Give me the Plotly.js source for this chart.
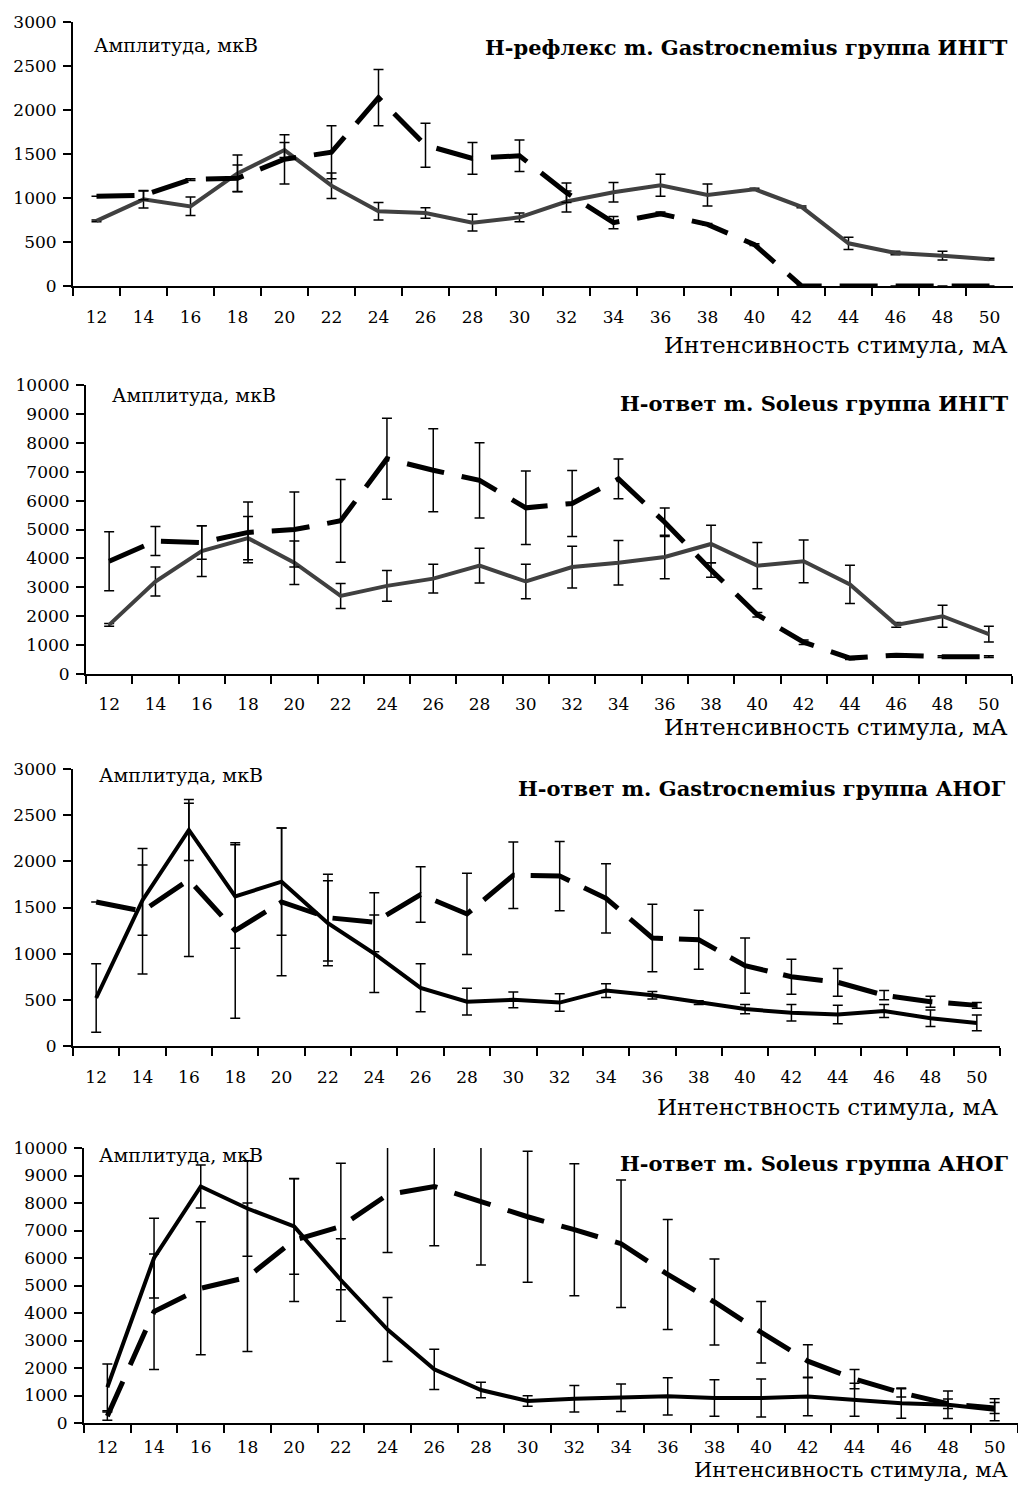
<!DOCTYPE html>
<html>
<head>
<meta charset="utf-8">
<script src="https://cdn.plot.ly/plotly-3.0.1.min.js"></script>
<style>
  html, body { margin: 0; padding: 0; background: #fff; }
  #chart { width: 1018px; height: 1485px; }
</style>
</head>
<body>
<div id="chart"></div>
<script>
// Stimulus intensity, mA
const intensity = ["12","14","16","18","20","22","24","26","28","30","32","34","36","38","40","42","44","46","48","50"];

// H-рефлекс m. Gastrocnemius, группа ИНГТ
const gastrIngtSolid    = [740, 985, 905, 1280, 1545, 1140, 850, 830, 720, 780, 960, 1065, 1145, 1035, 1100, 900, 485, 375, 345, 305];
const gastrIngtSolidErr = [10, 100, 105, 210, 85, 145, 100, 60, 95, 50, 120, 110, 125, 125, 10, 10, 70, 20, 50, 10];
const gastrIngtDash     = [1020, 1030, 1210, 1225, 1440, 1520, 2140, 1600, 1450, 1480, 1060, 720, 820, 700, 470, 0, 0, 0, 0, 0];
const gastrIngtDashErr  = [0, 50, 10, 150, 280, 300, 320, 250, 180, 180, 110, 70, 20, 10, 10, 0, 0, 0, 0, 0];

// H-ответ m. Soleus, группа ИНГТ
const solIngtSolid    = [1700, 3200, 4250, 4700, 3850, 2700, 3050, 3300, 3750, 3200, 3700, 3850, 4050, 4500, 3750, 3900, 3100, 1700, 2000, 1380];
const solIngtSolidErr = [50, 500, 880, 750, 750, 430, 530, 500, 600, 600, 720, 770, 750, 650, 800, 740, 660, 80, 380, 270];
const solIngtDash     = [3900, 4600, 4550, 4900, 5000, 5300, 7450, 7050, 6700, 5750, 5900, 6750, 5250, 3600, 2050, 1100, 550, 650, 600, 600];
const solIngtDashErr  = [1020, 500, 580, 1050, 1300, 1430, 1400, 1440, 1300, 1270, 1140, 690, 490, 250, 80, 80, 50, 30, 30, 30];

// H-ответ m. Gastrocnemius, группа АНОГ
const gastrAnogSolid    = [520, 1580, 2340, 1620, 1780, 1330, 1000, 630, 480, 500, 470, 600, 550, 470, 400, 360, 340, 380, 300, 250];
const gastrAnogSolidErr = [370, 380, 330, 560, 580, 460, 420, 260, 145, 85, 95, 75, 40, 20, 50, 90, 100, 70, 90, 85];
const gastrAnogDash     = [1560, 1460, 1800, 1250, 1560, 1390, 1340, 1640, 1430, 1850, 1840, 1600, 1170, 1150, 870, 750, 690, 550, 480, 440];
const gastrAnogDashErr  = [0, 680, 830, 950, 800, 470, 320, 300, 440, 360, 375, 375, 365, 320, 300, 190, 150, 50, 60, 30];

// H-ответ m. Soleus, группа АНОГ
const solAnogSolid    = [1300, 6000, 8600, 7800, 7150, 5200, 3400, 1950, 1200, 800, 880, 920, 970, 910, 910, 960, 850, 720, 660, 480];
const solAnogSolidErr = [850, 1450, 780, 1740, 1740, 1500, 1160, 730, 280, 190, 480, 500, 680, 660, 690, 700, 600, 550, 500, 400];
const solAnogDash     = [250, 4050, 4900, 5300, 6650, 7150, 8300, 8600, 8050, 7500, 7030, 6520, 5400, 4400, 3300, 2250, 1600, 1100, 700, 550];
const solAnogDashErr  = [150, 2100, 2420, 2700, 2230, 2300, 2100, 2150, 2300, 2380, 2400, 2320, 2000, 1560, 1120, 600, 350, 150, 170, 200];

const W = 1018, H = 1485;
const px = x => x / W;
const py = y => 1 - y / H;
const SERIF = "DejaVu Serif, Liberation Serif, serif";

function series(y, err, axisIdx, color, dash, width) {
  const s = axisIdx === 1 ? "" : String(axisIdx);
  return {
    type: "scatter", mode: "lines",
    x: intensity, y: y,
    xaxis: "x" + s, yaxis: "y" + s,
    line: { color: color, width: width, dash: dash },
    error_y: { type: "data", array: err, visible: true, color: "#000", thickness: 1.5, width: 5 },
    hoverinfo: "skip", showlegend: false
  };
}

const traces = [
  series(gastrIngtSolid, gastrIngtSolidErr, 1, "#404040", "solid", 4),
  series(gastrIngtDash, gastrIngtDashErr, 1, "#000", "38px,18px", 5),
  series(solIngtSolid, solIngtSolidErr, 2, "#404040", "solid", 4),
  series(solIngtDash, solIngtDashErr, 2, "#000", "38px,18px", 5),
  series(gastrAnogSolid, gastrAnogSolidErr, 3, "#000", "solid", 4),
  series(gastrAnogDash, gastrAnogDashErr, 3, "#000", "40px,16px", 5),
  series(solAnogSolid, solAnogSolidErr, 4, "#000", "solid", 4),
  series(solAnogDash, solAnogDashErr, 4, "#000", "38px,18px", 5)
];

// panel geometry in pixels: left, right, top (max value), bottom (zero), tick label gap
const panels = [
  { l: 73, r: 1013, t: 22,   b: 286,  max: 3000,  dt: 500,  gap: 15 },
  { l: 86, r: 1012, t: 385,  b: 674,  max: 10000, dt: 1000, gap: 14 },
  { l: 73, r: 1000, t: 769,  b: 1046, max: 3000,  dt: 500,  gap: 15 },
  { l: 84, r: 1018, t: 1148, b: 1423, max: 10000, dt: 1000, gap: 8 }
];

const tickFont = { family: SERIF, size: 17, color: "#000" };

const layout = {
  width: W, height: H,
  margin: { l: 0, r: 0, t: 0, b: 0 },
  paper_bgcolor: "#fff", plot_bgcolor: "#fff",
  showlegend: false,
  annotations: []
};

panels.forEach((p, i) => {
  const s = i === 0 ? "" : String(i + 1);
  layout["xaxis" + s] = {
    type: "category",
    domain: [px(p.l), px(p.r)],
    anchor: "y" + s,
    range: [-0.5, 19.5],
    showline: true, linecolor: "#000", linewidth: 2,
    ticks: "outside", tickson: "boundaries", ticklen: 8, tickwidth: 2, tickcolor: "#000",
    ticklabelstandoff: p.gap,
    showgrid: false, zeroline: false,
    tickfont: tickFont, fixedrange: true
  };
  layout["yaxis" + s] = {
    domain: [py(p.b), py(p.t)],
    anchor: "x" + s,
    range: [0, p.max],
    dtick: p.dt, tick0: 0, tickformat: "d",
    showline: true, linecolor: "#000", linewidth: 2,
    ticks: "outside", ticklen: 8, tickwidth: 2, tickcolor: "#000",
    ticklabelstandoff: 3,
    showgrid: false, zeroline: false,
    tickfont: tickFont, fixedrange: true
  };
});

const titles = [
  { text: "<b>H-рефлекс m. Gastrocnemius группа ИНГТ</b>", x: 1010, y: 48 },
  { text: "<b>H-ответ m. Soleus группа ИНГТ</b>", x: 1010, y: 403 },
  { text: "<b>H-ответ m. Gastrocnemius группа АНОГ</b>", x: 1008, y: 788 },
  { text: "<b>H-ответ m. Soleus группа АНОГ</b>", x: 1010, y: 1163 }
];
const yLabels = [
  { x: 92, y: 45 }, { x: 110, y: 395 }, { x: 97, y: 775 }, { x: 97, y: 1155 }
];
const xTitles = [
  { text: "Интенсивность стимула, мА", x: 1010, y: 345, size: 23 },
  { text: "Интенсивность стимула, мА", x: 1010, y: 727, size: 23 },
  { text: "Интенствность стимула, мА", x: 1000, y: 1107, size: 23 },
  { text: "Интенсивность стимула, мА", x: 1010, y: 1470, size: 21 }
];

titles.forEach(t => layout.annotations.push({
  text: t.text, xref: "paper", yref: "paper", x: px(t.x), y: py(t.y),
  xanchor: "right", yanchor: "middle", showarrow: false,
  font: { family: SERIF, size: 21, color: "#000" }
}));
yLabels.forEach(t => layout.annotations.push({
  text: "Амплитуда, мкВ", xref: "paper", yref: "paper", x: px(t.x), y: py(t.y),
  xanchor: "left", yanchor: "middle", showarrow: false,
  font: { family: SERIF, size: 19, color: "#000" }
}));
xTitles.forEach(t => layout.annotations.push({
  text: t.text, xref: "paper", yref: "paper", x: px(t.x), y: py(t.y),
  xanchor: "right", yanchor: "middle", showarrow: false,
  font: { family: SERIF, size: t.size, color: "#000" }
}));

Plotly.newPlot("chart", traces, layout, { staticPlot: true, displayModeBar: false });
</script>
</body>
</html>
